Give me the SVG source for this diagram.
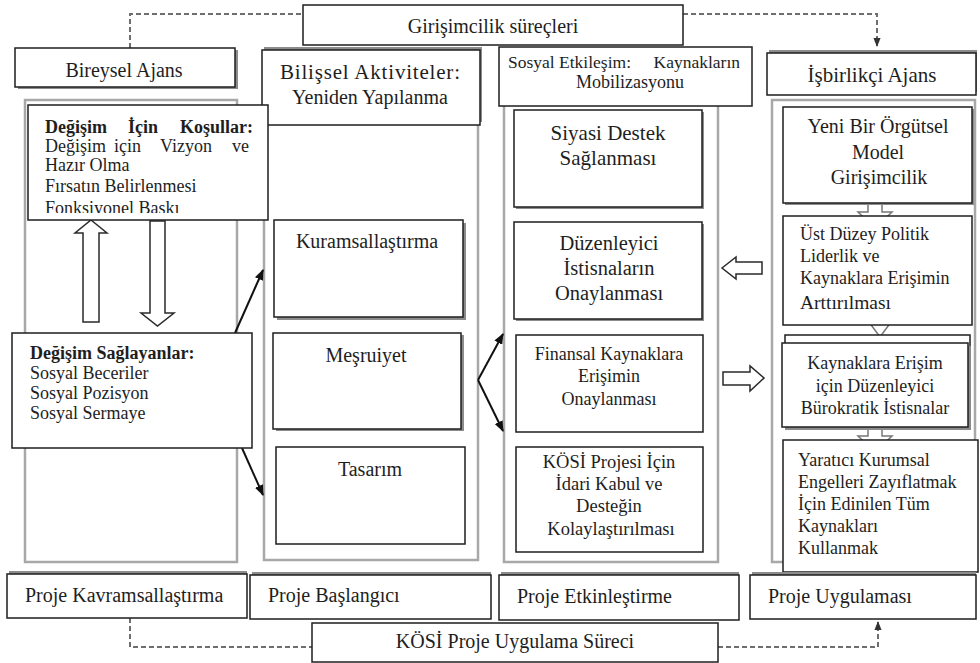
<svg xmlns="http://www.w3.org/2000/svg" width="980" height="663" viewBox="0 0 980 663">
<defs>
<style>
.box{fill:#fff;stroke:#1e1e1e;stroke-width:1.5}
.sh{fill:#8c8c8c}
.cont{fill:none;stroke:#a8a8a8;stroke-width:2.5}
.t{font-family:'Liberation Serif','Times New Roman',serif;fill:#1e1e1e}
.h{font-size:20px}
.b{font-size:18px}
.c{text-anchor:middle}
.e{text-anchor:end}
.bold{font-weight:bold}
.dash{fill:none;stroke:#6e6e6e;stroke-width:2;stroke-dasharray:5 3}
.hol{fill:#fff;stroke:#2a2a2a;stroke-width:1.5;stroke-linejoin:miter}
.holg{fill:#fff;stroke:#777;stroke-width:1.5}
.arr{fill:none;stroke:#111;stroke-width:2;marker-end:url(#ah)}
</style>
<marker id="ah" viewBox="0 0 10 8" refX="9" refY="4" markerWidth="11" markerHeight="9" markerUnits="userSpaceOnUse" orient="auto">
<path d="M0,0 L10,4 L0,8 z" fill="#111"/>
</marker>
<marker id="dh" viewBox="0 0 10 8" refX="9" refY="4" markerWidth="9" markerHeight="8" markerUnits="userSpaceOnUse" orient="auto">
<path d="M0,0 L10,4 L0,8 z" fill="#333"/>
</marker>
<clipPath id="clipK"><rect x="28" y="105" width="240" height="108"/></clipPath>
</defs>
<rect width="980" height="663" fill="#fff"/>

<!-- column containers -->
<g id="containers">
<rect class="cont" x="25" y="100" width="212" height="462"/>
<rect class="cont" x="264" y="100" width="214" height="460"/>
<rect class="cont" x="504" y="100" width="214" height="462"/>
<rect class="cont" x="772" y="100" width="203" height="462"/>
</g>

<!-- connectors -->
<g id="connectors">
<path class="dash" d="M130,48 V14 H303"/>
<path class="dash" d="M683,14 H877 V46" marker-end="url(#dh)"/>
<path class="dash" d="M130,618 V647 H312"/>
<path class="dash" d="M718,647 H878 V622" marker-end="url(#dh)"/>
<polygon class="hol" points="91,220 107,233 99,233 99,322 83,322 83,233 75,233"/>
<polygon class="hol" points="150,221 165,221 165,313 174,313 157.5,326 141,313 150,313"/>
<polygon class="hol" points="722,268 736,257 736,262 762,262 762,274 736,274 736,279"/>
<polygon class="hol" points="723,372 750,372 750,366 764,378 750,391 750,385 723,385"/>
<polygon class="holg" points="868,200 882,200 882,212 892,212 875,228 858,212 868,212"/>
<polygon class="holg" points="866,318 894,318 880,337"/>
<polygon class="holg" points="868,424 882,424 882,436 892,436 875,452 858,436 868,436"/>
<line class="arr" x1="235" y1="333" x2="263" y2="270"/>
<line class="arr" x1="242" y1="448" x2="263" y2="495"/>
<line class="arr" x1="478" y1="380" x2="503" y2="334"/>
<line class="arr" x1="478" y1="380" x2="503" y2="431"/>
</g>

<g id="girisimcilik">
<rect class="box" x="303" y="5" width="380" height="40"/>
<text class="t h c" x="493" y="33">Girişimcilik süreçleri</text>
</g>

<g id="bireysel">
<rect class="sh" x="18" y="50" width="220" height="39"/>
<rect class="box" x="15" y="48" width="220" height="39"/>
<text class="t h c" x="124" y="77">Bireysel Ajans</text>
</g>

<g id="bilissel">
<rect class="sh" x="264" y="47" width="218" height="75"/>
<rect class="box" x="262" y="50" width="218" height="75"/>
<text class="t" font-size="21" x="280" y="79" textLength="180" lengthAdjust="spacing">Bilişsel Aktiviteler:</text>
<text class="t h c" x="370" y="104">Yeniden Yapılanma</text>
</g>

<g id="sosyal">
<rect class="box" x="499" y="47" width="253" height="59"/>
<text class="t" font-size="17.5" x="508" y="68">Sosyal Etkileşim:</text>
<text class="t e" font-size="17.5" x="740" y="68">Kaynakların</text>
<text class="t c" font-size="18" x="630" y="88">Mobilizasyonu</text>
</g>

<g id="isbirlikci">
<rect class="sh" x="769" y="50" width="208" height="42"/>
<rect class="box" x="767" y="53" width="209" height="42"/>
<text class="t c" font-size="21" x="872" y="82">İşbirlikçi Ajans</text>
</g>

<g id="kosullar">
<rect class="box" x="28" y="105" width="240" height="115"/>
<g clip-path="url(#clipK)">
<text class="t b bold" y="133"><tspan x="45">Değişim</tspan><tspan x="128">İçin</tspan><tspan x="180">Koşullar:</tspan></text>
<text class="t b" y="152"><tspan x="45">Değişim</tspan><tspan x="114">için</tspan><tspan x="160">Vizyon</tspan><tspan x="232">ve</tspan></text>
<text class="t b" x="45" y="171">Hazır Olma</text>
<text class="t b" x="45" y="192">Fırsatın Belirlenmesi</text>
<text class="t b" x="45" y="214">Fonksiyonel Baskı</text>
</g>
</g>

<g id="saglayanlar">
<rect class="box" x="12" y="333" width="240" height="115"/>
<text class="t b bold" x="30" y="359">Değişim Sağlayanlar:</text>
<text class="t b" x="30" y="379">Sosyal Beceriler</text>
<text class="t b" x="30" y="399">Sosyal Pozisyon</text>
<text class="t b" x="30" y="419">Sosyal Sermaye</text>
</g>

<g id="kuramsal">
<rect class="sh" x="277" y="223" width="189" height="97"/>
<rect class="box" x="274" y="220" width="189" height="97"/>
<text class="t h c" x="367" y="248">Kuramsallaştırma</text>
</g>

<g id="mesruiyet">
<rect class="sh" x="276" y="335" width="188" height="96"/>
<rect class="box" x="273" y="333" width="188" height="96"/>
<text class="t h c" x="366" y="362">Meşruiyet</text>
</g>

<g id="tasarim">
<rect class="box" x="276" y="447" width="189" height="97"/>
<text class="t h c" x="370" y="476">Tasarım</text>
</g>

<g id="siyasi">
<rect class="sh" x="516" y="112" width="188" height="97"/>
<rect class="box" x="514" y="110" width="188" height="97"/>
<text class="t c" font-size="21" x="608" y="140">Siyasi Destek</text>
<text class="t c" font-size="21" x="608" y="165">Sağlanması</text>
</g>

<g id="duzenleyici">
<rect class="sh" x="516" y="224" width="188" height="97"/>
<rect class="box" x="514" y="222" width="188" height="97"/>
<text class="t c" font-size="20.5" x="609" y="250">Düzenleyici</text>
<text class="t c" font-size="20.5" x="609" y="275">İstisnaların</text>
<text class="t c" font-size="20.5" x="609" y="300">Onaylanması</text>
</g>

<g id="finansal">
<rect class="box" x="516" y="335" width="187" height="97"/>
<text class="t b c" x="609" y="360">Finansal Kaynaklara</text>
<text class="t b c" x="609" y="382">Erişimin</text>
<text class="t b c" x="609" y="405">Onaylanması</text>
</g>

<g id="kosi-destek">
<rect class="box" x="516" y="447" width="187" height="105"/>
<text class="t c" font-size="18.5" x="609" y="468">KÖSİ Projesi İçin</text>
<text class="t c" font-size="18.5" x="609" y="490">İdari Kabul ve</text>
<text class="t c" font-size="18.5" x="609" y="512">Desteğin</text>
<text class="t c" font-size="18.5" x="611" y="535">Kolaylaştırılması</text>
</g>

<g id="yeni-model">
<rect class="sh" x="785" y="109" width="189" height="96"/>
<rect class="box" x="783" y="107" width="189" height="96"/>
<text class="t h c" x="878" y="133">Yeni Bir Örgütsel</text>
<text class="t h c" x="878" y="159">Model</text>
<text class="t h c" x="879" y="184">Girişimcilik</text>
</g>

<g id="ust-duzey">
<rect class="box" x="783" y="216" width="189" height="109"/>
<text class="t b" x="800" y="240">Üst Düzey Politik</text>
<text class="t b" x="800" y="262">Liderlik ve</text>
<text class="t b" x="800" y="284">Kaynaklara Erişimin</text>
<text class="t" font-size="19.5" x="800" y="309">Arttırılması</text>
</g>

<g id="burokratik">
<rect class="box" x="785" y="335" width="185" height="90"/>
<rect class="sh" x="785" y="346" width="186" height="84"/>
<rect class="box" x="782" y="343" width="186" height="84"/>
<text class="t b c" x="875" y="369">Kaynaklara Erişim</text>
<text class="t b c" x="875" y="392">için Düzenleyici</text>
<text class="t b c" x="875" y="414">Bürokratik İstisnalar</text>
</g>

<g id="yaratici">
<rect class="box" x="783" y="440" width="195" height="132"/>
<text class="t b" x="798" y="466">Yaratıcı Kurumsal</text>
<text class="t b" x="798" y="488">Engelleri Zayıflatmak</text>
<text class="t b" x="798" y="510">İçin Edinilen Tüm</text>
<text class="t b" x="798" y="532">Kaynakları</text>
<text class="t b" x="798" y="554">Kullanmak</text>
</g>

<g id="p-kavram">
<rect class="sh" x="9" y="571" width="238" height="44"/>
<rect class="box" x="7" y="574" width="240" height="44"/>
<text class="t h" x="25" y="602">Proje Kavramsallaştırma</text>
</g>

<g id="p-baslangic">
<rect class="sh" x="252" y="572" width="239" height="44"/>
<rect class="box" x="250" y="575" width="241" height="44"/>
<text class="t h" x="268" y="602">Proje Başlangıcı</text>
</g>

<g id="p-etkin">
<rect class="sh" x="501" y="572" width="238" height="45"/>
<rect class="box" x="499" y="575" width="240" height="45"/>
<text class="t h" x="517" y="603">Proje Etkinleştirme</text>
</g>

<g id="p-uygulama">
<rect class="sh" x="752" y="572" width="224" height="44"/>
<rect class="box" x="750" y="575" width="226" height="44"/>
<text class="t h" x="768" y="603">Proje Uygulaması</text>
</g>

<g id="kosi-surec">
<rect class="box" x="312" y="623" width="406" height="39"/>
<text class="t h c" x="515" y="648">KÖSİ Proje Uygulama Süreci</text>
</g>
</svg>
